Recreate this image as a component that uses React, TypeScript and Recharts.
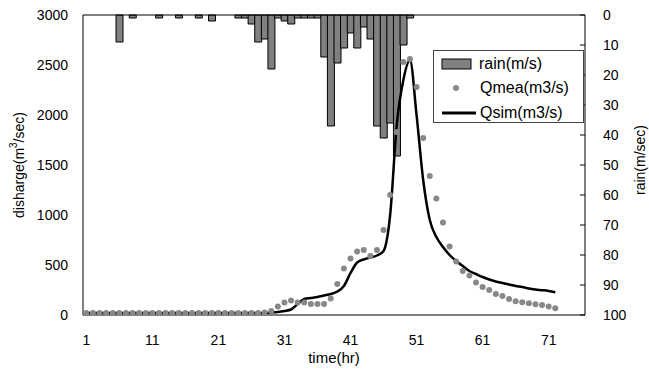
import { ComposedChart, Bar, Line, XAxis, YAxis, ReferenceLine } from 'recharts';

// hours on the category axis (the axis runs a few hours past the data)
const hours = [
  1, 2, 3, 4, 5, 6, 7, 8, 9, 10, 11, 12, 13, 14, 15, 16, 17, 18, 19, 20,
  21, 22, 23, 24, 25, 26, 27, 28, 29, 30, 31, 32, 33, 34, 35, 36, 37, 38, 39, 40,
  41, 42, 43, 44, 45, 46, 47, 48, 49, 50, 51, 52, 53, 54, 55, 56, 57, 58, 59, 60,
  61, 62, 63, 64, 65, 66, 67, 68, 69, 70, 71, 72, 73, 74, 75, 76,
];

const rain = [
  null, null, null, null, null, 9, null, 1, null, null,
  null, 1, null, null, 1, null, null, 1, null, 2,
  null, null, null, 1, 1, 3, 9, 8, 18, 1,
  2, 3, 1, 1, 1, 1, 14, 37, 16, 11,
  6, 11, 4, 8, 37, 41, 36, 47, 10, 1,
];

const qmea = [
  20, 20, 20, 20, 20, 20, 20, 20, 20, 20,
  20, 20, 20, 20, 20, 20, 20, 20, 20, 20,
  20, 20, 20, 20, 20, 20, 20, 25, 40, 85,
  125, 145, 125, 125, 110, 110, 110, 165, 310, 465,
  565, 635, 650, 590, 650, 850, 1200, 1830, 2530, 2560,
  2280, 1770, 1390, 1165, 925, 685, 535, 440, 395, 325,
  280, 250, 210, 190, 160, 138, 128, 118, 108, 100,
  85, 68,
];

const qsim = [
  20, 20, 20, 20, 20, 20, 20, 20, 20, 20,
  20, 20, 20, 20, 20, 20, 20, 20, 20, 20,
  20, 20, 20, 20, 20, 20, 20, 20, 25, 30,
  40, 55, 110, 160, 170, 180, 195, 210, 235, 290,
  420, 525, 555, 575, 595, 640, 1000, 1900, 2350, 2550,
  2000, 1350, 950, 780, 680, 600, 540, 490, 440, 410,
  380, 355, 335, 320, 305, 290, 280, 265, 255, 248,
  240, 228,
];

const qTicks = [0, 500, 1000, 1500, 2000, 2500, 3000];
const rainTicks = [0, 10, 20, 30, 40, 50, 60, 70, 80, 90, 100];

const data = hours.map((h, i) => ({
  t: h,
  rain: rain[i] ?? null,
  qmea: qmea[i] ?? null,
  qsim: qsim[i] ?? null,
}));

const FONT = '"Liberation Sans", Arial, sans-serif';

function LegendBox() {
  return (
    <div
      style={{
        position: 'absolute',
        left: 433,
        top: 50,
        width: 151,
        height: 73,
        border: '1px solid #444',
        background: '#fff',
        fontFamily: FONT,
        fontSize: 16,
        lineHeight: '18px',
        color: '#000',
        boxSizing: 'border-box',
      }}
    >
      <svg width={44} height={70} style={{ position: 'absolute', left: 0, top: 0 }}>
        <rect x={8} y={8} width={29} height={10} fill="#808080" stroke="#000" />
        <circle cx={22} cy={37} r={3} fill="#888" />
        <line x1={8} x2={42} y1={62} y2={62} stroke="#000" strokeWidth={3} />
      </svg>
      <div style={{ position: 'absolute', left: 45, top: 4 }}>rain(m/s)</div>
      <div style={{ position: 'absolute', left: 46, top: 28 }}>Qmea(m3/s)</div>
      <div style={{ position: 'absolute', left: 46, top: 53 }}>Qsim(m3/s)</div>
    </div>
  );
}

export default function App() {
  return (
    <div style={{ position: 'absolute', left: 0, top: 0, width: 649, height: 371, background: '#fff' }}>
      <ComposedChart
        width={649}
        height={371}
        data={data}
        margin={{ top: 15, right: 0, bottom: 0, left: 0 }}
        barCategoryGap={0}
        barGap={0}
      >
        <XAxis
          dataKey="t"
          interval={9}
          height={56}
          tickLine={false}
          tickSize={0}
          tickMargin={20}
          axisLine={{ stroke: '#000' }}
          tick={{ fontSize: 14, fill: '#000', fontFamily: FONT }}
          label={{
            content: ({ viewBox }: any) => (
              <text x={viewBox.x + viewBox.width / 2} y={viewBox.y + 48} textAnchor="middle" fontSize={15} fontFamily={FONT} fill="#000">
                time(hr)
              </text>
            ),
          }}
        />
        <YAxis
          yAxisId="q"
          width={83}
          domain={[0, 3000]}
          ticks={qTicks}
          tickLine={false}
          tickSize={0}
          tickMargin={15}
          axisLine={{ stroke: '#000' }}
          tick={{ fontSize: 14, fill: '#000', fontFamily: FONT }}
          label={{
            content: ({ viewBox }: any) => {
              const cx = viewBox.x + 20;
              const cy = viewBox.y + viewBox.height / 2;
              return (
                <text x={cx} y={cy} transform={`rotate(-90 ${cx} ${cy})`} textAnchor="middle" fontSize={14} fontFamily={FONT} fill="#000" dominantBaseline="middle">
                  disharge(m<tspan dy={-6} fontSize={10}>3</tspan><tspan dy={6}>/sec)</tspan>
                </text>
              );
            },
          }}
        />
        <YAxis
          yAxisId="rain"
          orientation="right"
          width={64}
          domain={[0, 100]}
          ticks={rainTicks}
          reversed
          tickSize={-5}
          tickMargin={23}
          tickLine={{ stroke: '#000' }}
          axisLine={{ stroke: '#000' }}
          tick={{ fontSize: 14, fill: '#000', fontFamily: FONT }}
          label={{
            content: ({ viewBox }: any) => {
              const cx = viewBox.x + 56;
              const cy = viewBox.y + viewBox.height / 2 - 5;
              return (
                <text x={cx} y={cy} transform={`rotate(-90 ${cx} ${cy})`} textAnchor="middle" fontSize={14} fontFamily={FONT} fill="#000" dominantBaseline="middle">
                  rain(m/sec)
                </text>
              );
            },
          }}
        />
        <ReferenceLine yAxisId="q" y={3000} stroke="#000" />
        <Bar yAxisId="rain" dataKey="rain" name="rain(m/s)" fill="#808080" stroke="#000" strokeWidth={1} isAnimationActive={false} />
        <Line
          yAxisId="q"
          dataKey="qmea"
          name="Qmea(m3/s)"
          stroke="none"
          dot={{ r: 3, fill: '#888', stroke: 'none' }}
          activeDot={false}
          isAnimationActive={false}
        />
        <Line
          yAxisId="q"
          type="monotone"
          dataKey="qsim"
          name="Qsim(m3/s)"
          stroke="#000"
          strokeWidth={2.5}
          dot={false}
          isAnimationActive={false}
        />
      </ComposedChart>
      <LegendBox />
    </div>
  );
}
